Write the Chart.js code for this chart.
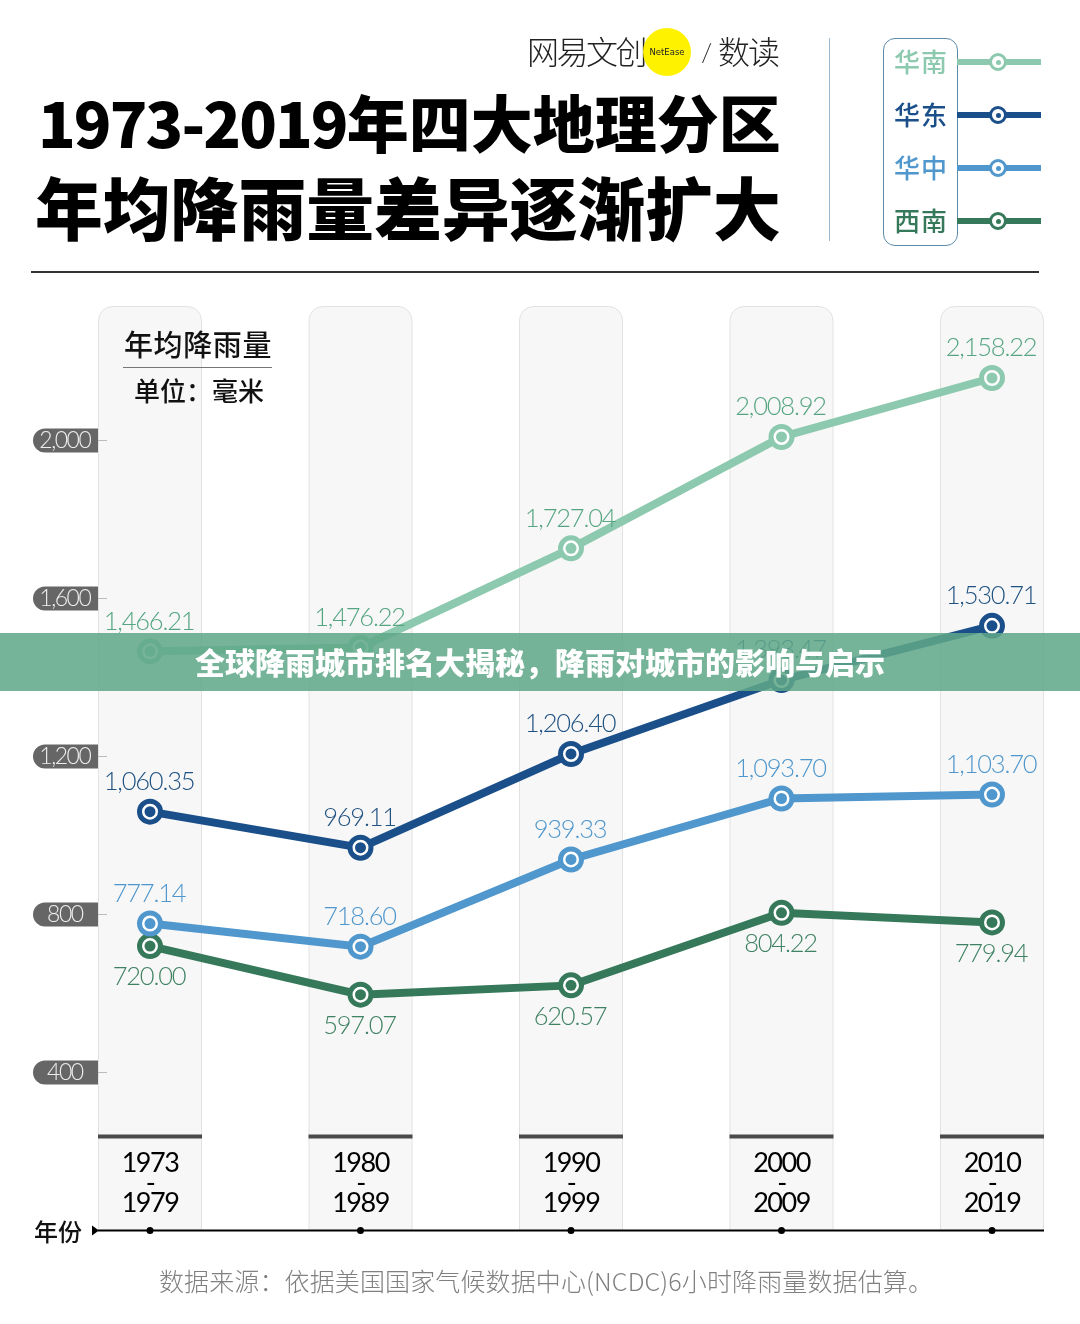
<!DOCTYPE html>
<html lang="zh">
<head>
<meta charset="utf-8">
<title>1973-2019年四大地理分区年均降雨量差异逐渐扩大</title>
<script src="https://cdn.jsdelivr.net/npm/chart.js@4"></script>
<style>
html, body { margin: 0; padding: 0; background: #fff; }
#page { position: relative; width: 1080px; height: 1324px; overflow: hidden; font-family: "Noto Sans CJK SC", sans-serif; }
#page > div, #page > canvas { position: absolute; white-space: nowrap; }
#chart { left: 0; top: 0; }
.title { font-weight: 900; color: #000; }
.logo { font-size: 32px; font-weight: 300; color: #222; line-height: 40px; top: 30px; }
.legendText { left: 894px; width: 54px; font-size: 26px; font-weight: 500; line-height: 30px; letter-spacing: 1px; }
.legendLine { left: 957px; width: 84px; height: 6px; }
.legendDot { left: 989px; width: 12px; height: 12px; border-radius: 50%; border: 3px solid; background: #fff; }
.legendDot i { position: absolute; left: 3.5px; top: 3.5px; width: 5px; height: 5px; border-radius: 50%; background: currentColor; }
</style>
</head>
<body>
<div id="page">
  <canvas id="chart" width="1080" height="1324"></canvas>

  <div class="logo" style="left:527px;letter-spacing:-2.5px;">网易文创</div>
  <div style="left:643px;top:28px;width:48px;height:48px;border-radius:50%;background:#fff200;"></div>
  <div style="left:643px;top:28px;width:48px;text-align:center;font:8.5px/48px 'DejaVu Sans';color:#222;">NetEase</div>
  <div style="left:701px;top:36px;font:300 26px/32px 'Lato';color:#333;">/</div>
  <div class="logo" style="left:718px;letter-spacing:-2px;">数读</div>

  <div class="title" style="left:38px;top:81px;font-size:62px;line-height:80px;"><span style="letter-spacing:-1.9px;">1973-2019</span>年四大地理分区</div>
  <div class="title" style="left:35px;top:164px;font-size:67.8px;line-height:84px;">年均降雨量差异逐渐扩大</div>

  <div style="left:829px;top:38px;width:1px;height:203px;background:#9db9d2;"></div>
  <div style="left:883px;top:38px;width:73px;height:206px;border:1px solid #5d8cab;border-radius:12px;"></div>
  <div id="legend"></div>

  <div style="left:31px;top:271px;width:1008px;height:2px;background:#333;"></div>

  <div style="left:124px;top:323px;font-size:29px;font-weight:500;line-height:40px;color:#111;letter-spacing:.6px;">年均降雨量</div>
  <div style="left:123px;top:367px;width:149px;height:1px;background:#777;"></div>
  <div style="left:134px;top:371px;font-size:26px;font-weight:500;line-height:38px;color:#111;">单位&#xFF1A;毫米</div>

  <div style="left:34px;top:1213px;font-size:24px;font-weight:500;line-height:36px;color:#111;">年份</div>
  <div style="left:159px;top:1262px;font-size:25px;font-weight:300;line-height:36px;letter-spacing:.12px;color:#808080;">数据来源&#xFF1A;依据美国国家气候数据中心(NCDC)6小时降雨量数据估算。</div>

  <div style="left:0;top:633px;width:1080px;height:58px;background:rgba(96,168,136,.86);"></div>
  <div style="left:0;top:632px;width:1080px;text-align:center;font-size:30px;font-weight:900;line-height:58px;color:#fff;">全球降雨城市排名大揭秘&#xFF0C;降雨对城市的影响与启示</div>
</div>

<script>
// データ
const periods = [['1973', '-', '1979'], ['1980', '-', '1989'], ['1990', '-', '1999'], ['2000', '-', '2009'], ['2010', '-', '2019']];
const yTicks = [400, 800, 1200, 1600, 2000];
const huanan = [1466.21, 1476.22, 1727.04, 2008.92, 2158.22];
const huadong = [1060.35, 969.11, 1206.40, 1393.47, 1530.71];
const huazhong = [777.14, 718.60, 939.33, 1093.70, 1103.70];
const xinan = [720.00, 597.07, 620.57, 804.22, 779.94];

const seriesNames = ['华南', '华东', '华中', '西南'];
const seriesValues = [huanan, huadong, huazhong, xinan];
const lineColors = ['#8cc9ae', '#1b4f8a', '#4f97cd', '#36795a'];
const textColors = ['#55a582', '#205282', '#4f97cd', '#3f8263'];

// 凡例
let legendHtml = '';
seriesNames.forEach(function(name, i) {
  let y = 62 + i * 53;
  legendHtml += '<div class="legendText" style="position:absolute;top:' + (y - 16) + 'px;color:' + lineColors[i] + ';">' + name + '</div>';
  legendHtml += '<div class="legendLine" style="position:absolute;top:' + (y - 3) + 'px;background:' + lineColors[i] + ';"></div>';
  legendHtml += '<div class="legendDot" style="position:absolute;top:' + (y - 9) + 'px;color:' + lineColors[i] + ';border-color:' + lineColors[i] + ';"><i></i></div>';
});
document.getElementById('legend').innerHTML = legendHtml;
document.getElementById('legend').style.cssText = 'left:0;top:0;';

// 背景のパネル、目盛りの札、年の軸
const backdropPlugin = {
  id: 'backdrop',
  beforeDraw: function(chart) {
    let ctx = chart.ctx;
    let x = chart.scales.x;
    let y = chart.scales.y;
    let bottom = chart.chartArea.bottom;
    ctx.save();
    periods.forEach(function(p, i) {
      let cx = x.getPixelForTick(i);
      ctx.beginPath();
      ctx.roundRect(cx - 51.5, 306.5, 103, bottom - 306.5, [14, 14, 0, 0]);
      ctx.fillStyle = '#f7f7f7';
      ctx.fill();
      ctx.strokeStyle = '#e2e2e2';
      ctx.lineWidth = 1;
      ctx.stroke();
      ctx.fillStyle = '#4a4a4a';
      ctx.fillRect(cx - 52, 1134.5, 104, 4);
    });
    yTicks.forEach(function(v) {
      let py = y.getPixelForValue(v);
      ctx.beginPath();
      ctx.roundRect(33, py - 12, 65, 24, [12, 0, 0, 12]);
      ctx.fillStyle = '#666';
      ctx.fill();
      ctx.fillStyle = '#bbb';
      ctx.fillRect(98, py - 0.5, 9, 1);
    });
    ctx.fillStyle = '#000';
    ctx.fillRect(98, bottom - 1, 946, 2);
    ctx.beginPath();
    ctx.moveTo(92, bottom - 5);
    ctx.lineTo(99, bottom);
    ctx.lineTo(92, bottom + 5);
    ctx.fill();
    periods.forEach(function(p, i) {
      ctx.beginPath();
      ctx.arc(x.getPixelForTick(i), bottom, 3.5, 0, Math.PI * 2);
      ctx.fill();
    });
    ctx.restore();
    ctx.letterSpacing = '-1.5px';
  }
};

// 点の中心と数値のラベル
const valueLabelPlugin = {
  id: 'valueLabel',
  afterDatasetsDraw: function(chart) {
    let ctx = chart.ctx;
    ctx.save();
    ctx.letterSpacing = '-1.2px';
    ctx.font = '300 25.5px Lato';
    ctx.textAlign = 'center';
    ctx.textBaseline = 'middle';
    chart.data.datasets.forEach(function(ds, d) {
      chart.getDatasetMeta(d).data.forEach(function(pt, i) {
        ctx.fillStyle = lineColors[d];
        ctx.beginPath();
        ctx.arc(pt.x, pt.y, 5.5, 0, Math.PI * 2);
        ctx.fill();
        let text = ds.data[i].toLocaleString('en-US', {minimumFractionDigits: 2, maximumFractionDigits: 2});
        ctx.fillStyle = textColors[d];
        ctx.fillText(text, pt.x - 1, pt.y + (d === 3 ? 31 : -30));
      });
    });
    ctx.restore();
  }
};

new Chart(document.getElementById('chart'), {
  type: 'line',
  data: {
    labels: periods,
    datasets: seriesValues.map(function(values, i) {
      return {
        label: seriesNames[i],
        data: values,
        borderColor: lineColors[i],
        borderWidth: 8,
        tension: 0,
        pointRadius: 10.5,
        pointBorderWidth: 5,
        pointBorderColor: lineColors[i],
        pointBackgroundColor: '#fff'
      };
    })
  },
  options: {
    responsive: false,
    animation: false,
    devicePixelRatio: 1,
    layout: { padding: { left: 33.5, right: 88, top: 282.5, bottom: 93.5 } },
    plugins: { legend: { display: false }, title: { display: false }, tooltip: { enabled: false } },
    scales: {
      x: {
        grid: { display: false, drawTicks: false },
        border: { display: false },
        afterFit: function(scale) {
          scale.height = 0;
          scale.paddingLeft = 0;
          scale.paddingRight = 0;
        },
        ticks: {
          autoSkip: false,
          maxRotation: 0,
          mirror: true,
          padding: 57,
          color: '#000',
          font: { family: 'Lato', size: 27, lineHeight: 0.74 }
        }
      },
      y: {
        min: 0,
        max: 2400,
        grid: { display: false, drawTicks: false },
        border: { display: false },
        afterBuildTicks: function(scale) { scale.ticks = yTicks.map(function(v) { return { value: v }; }); },
        afterFit: function(scale) { scale.width = 116.5; },
        ticks: {
          crossAlign: 'center',
          padding: 56,
          color: '#eee',
          font: { family: 'Lato', size: 23, weight: '300' },
          callback: function(v) { return v.toLocaleString('en-US'); }
        }
      }
    }
  },
  plugins: [backdropPlugin, valueLabelPlugin]
});
</script>
</body>
</html>
